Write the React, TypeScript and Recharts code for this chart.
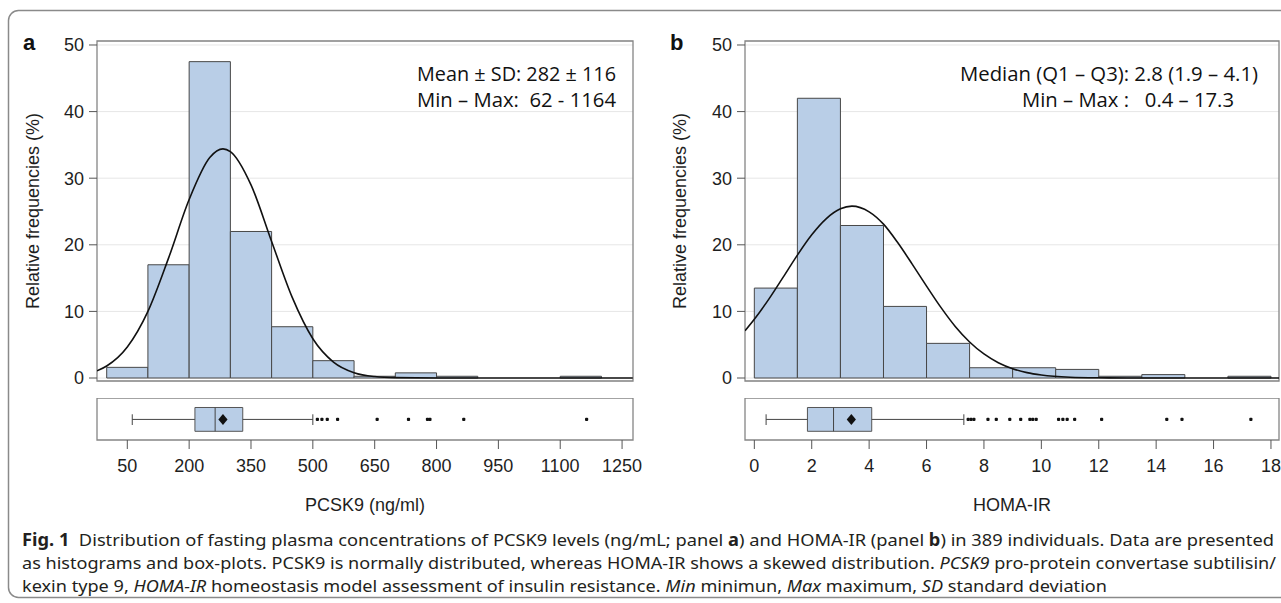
import React from 'react';
import {
  ComposedChart,
  Line,
  Scatter,
  XAxis,
  YAxis,
  CartesianGrid,
  ReferenceArea,
  ReferenceLine,
} from 'recharts';

// ---------- Panel a : PCSK9 ----------
const pcskBinStarts = [0, 100, 200, 300, 400, 500, 600, 700, 800, 900, 1000, 1100];
const pcskBinPct = [1.6, 17.0, 47.5, 22.0, 7.7, 2.6, 0.26, 0.77, 0.26, 0, 0, 0.26];
const pcskBinWidth = 100;
const pcskCurveX = [-23.5, 0, 50, 100, 150, 200, 250, 282, 300, 350, 400, 450, 500, 550, 600, 650, 700, 800, 1000, 1276];
const pcskCurveY = [1.07, 1.8, 4.65, 10.0, 18.0, 26.8, 33.1, 34.4, 34.0, 29.0, 20.5, 12.1, 5.9, 2.4, 0.8, 0.22, 0.05, 0, 0, 0];
const pcskBoxStats = [62, 214, 263, 282, 330, 500]; // min, q1, median, mean, q3, max-whisker
const pcskOutliers = [511, 522, 535, 560, 656, 732, 778, 784, 866, 1164];
const pcskTicks = [50, 200, 350, 500, 650, 800, 950, 1100, 1250];
const pcskDomain = [-23.5, 1276.5];

// ---------- Panel b : HOMA-IR ----------
const homaBinStarts = [0, 1.5, 3, 4.5, 6, 7.5, 9, 10.5, 12, 13.5, 15, 16.5];
const homaBinPct = [13.5, 42.0, 22.9, 10.75, 5.2, 1.54, 1.54, 1.29, 0.26, 0.51, 0, 0.26];
const homaBinWidth = 1.5;
const homaCurveX = [-0.325, 0, 0.5, 1, 1.5, 2, 2.5, 3, 3.4, 4, 4.5, 5, 5.5, 6, 6.5, 7, 7.5, 8, 8.5, 9, 9.5, 10, 11, 12, 13, 14, 18.28];
const homaCurveY = [7.08, 8.81, 11.8, 15.1, 18.45, 21.5, 23.9, 25.4, 25.8, 24.95, 23.1, 20.3, 17.1, 13.8, 10.6, 7.74, 5.41, 3.61, 2.3, 1.4, 0.81, 0.45, 0.12, 0.03, 0.005, 0, 0];
const homaBoxStats = [0.41, 1.85, 2.76, 3.38, 4.09, 7.3];
const homaOutliers = [7.45, 7.55, 7.65, 8.14, 8.43, 8.9, 9.28, 9.6, 9.7, 9.82, 10.6, 10.75, 10.9, 11.16, 12.1, 14.37, 14.9, 17.3];
const homaTicks = [0, 2, 4, 6, 8, 10, 12, 14, 16, 18];
const homaDomain = [-0.325, 18.28];

const freqTicks = [0, 10, 20, 30, 40, 50];
const freqDomain = [-0.45, 50.6];

const BAR_FILL = '#b9cee7';
const BAR_STROKE = '#474747';
const FRAME = '#858585';
const TICK_FONT = { fill: '#1e1e1e', fontSize: 18, fontFamily: '"Liberation Sans", Arial, sans-serif' };

type PanelProps = {
  left: number;
  width: number;
  yAxisWidth: number;
  marginRight: number;
  binStarts: number[];
  binPct: number[];
  binWidth: number;
  curveX: number[];
  curveY: number[];
  box: number[];
  outliers: number[];
  ticks: number[];
  domain: number[];
};

function Panel(p: PanelProps) {
  const curve = p.curveX.map((x, i) => ({ x, y: p.curveY[i] }));
  const [mn, q1, med, mean, q3, mx] = p.box;
  const outlierData = p.outliers.map((x) => ({ x, y: 0.49 }));
  const meanData = [{ x: mean, y: 0.49 }];
  return (
    <>
      <div style={{ position: 'absolute', left: p.left, top: 0 }}>
        <ComposedChart
          width={p.width}
          height={400}
          data={curve}
          margin={{ top: 41, right: p.marginRight, bottom: 19, left: 0 }}
        >
          <CartesianGrid vertical={false} stroke="#e6e6e6" />
          <XAxis type="number" dataKey="x" domain={p.domain} hide allowDataOverflow />
          <YAxis
            type="number"
            domain={freqDomain}
            ticks={freqTicks}
            width={p.yAxisWidth}
            tickSize={8}
            tickMargin={5}
            axisLine={false}
            tickLine={{ stroke: '#555' }}
            tick={TICK_FONT}
            allowDataOverflow
          />
          {p.binStarts.map((s, i) =>
            p.binPct[i] > 0 ? (
              <ReferenceArea
                key={'bin' + i}
                x1={s}
                x2={s + p.binWidth}
                y1={0}
                y2={p.binPct[i]}
                fill={BAR_FILL}
                fillOpacity={1}
                stroke={BAR_STROKE}
                strokeWidth={1}
                ifOverflow="visible"
              />
            ) : null
          )}
          <Line
            type="monotone"
            dataKey="y"
            stroke="#111"
            strokeWidth={1.6}
            dot={false}
            isAnimationActive={false}
          />
          <ReferenceArea
            x1={p.domain[0]}
            x2={p.domain[1]}
            y1={freqDomain[0]}
            y2={freqDomain[1]}
            fill="none"
            stroke={FRAME}
            strokeWidth={1.3}
            ifOverflow="visible"
          />
        </ComposedChart>
      </div>
      <div style={{ position: 'absolute', left: p.left, top: 398 }}>
        <ComposedChart
          width={p.width}
          height={122}
          margin={{ top: 0, right: p.marginRight, bottom: 0, left: p.yAxisWidth }}
        >
          <XAxis
            type="number"
            dataKey="x"
            domain={p.domain}
            ticks={p.ticks}
            height={80}
            tickSize={9}
            tickMargin={10}
            axisLine={false}
            tickLine={{ stroke: '#555' }}
            tick={TICK_FONT}
            allowDataOverflow
          />
          <YAxis type="number" dataKey="y" domain={[0, 1]} hide />
          <ReferenceLine segment={[{ x: mn, y: 0.49 }, { x: q1, y: 0.49 }]} stroke="#444" strokeWidth={1} ifOverflow="visible" />
          <ReferenceLine segment={[{ x: q3, y: 0.49 }, { x: mx, y: 0.49 }]} stroke="#444" strokeWidth={1} ifOverflow="visible" />
          <ReferenceLine segment={[{ x: mn, y: 0.357 }, { x: mn, y: 0.612 }]} stroke="#444" strokeWidth={1} ifOverflow="visible" />
          <ReferenceLine segment={[{ x: mx, y: 0.357 }, { x: mx, y: 0.612 }]} stroke="#444" strokeWidth={1} ifOverflow="visible" />
          <ReferenceArea
            x1={q1}
            x2={q3}
            y1={0.207}
            y2={0.774}
            fill={BAR_FILL}
            fillOpacity={1}
            stroke="#555"
            strokeWidth={1}
            ifOverflow="visible"
          />
          <ReferenceLine segment={[{ x: med, y: 0.207 }, { x: med, y: 0.774 }]} stroke="#444" strokeWidth={1} ifOverflow="visible" />
          <Scatter
            data={outlierData}
            dataKey="y"
            isAnimationActive={false}
            shape={(s: any) => <rect x={s.cx - 1.6} y={s.cy - 1.6} width={3.2} height={3.2} rx={1} fill="#111" />}
          />
          <Scatter
            data={meanData}
            dataKey="y"
            isAnimationActive={false}
            shape={(s: any) => (
              <polygon
                points={`${s.cx},${s.cy - 5.5} ${s.cx + 4.6},${s.cy} ${s.cx},${s.cy + 5.5} ${s.cx - 4.6},${s.cy}`}
                fill="#111"
              />
            )}
          />
          <ReferenceArea
            x1={p.domain[0]}
            x2={p.domain[1]}
            y1={0}
            y2={1}
            fill="none"
            stroke={FRAME}
            strokeWidth={1.3}
            ifOverflow="visible"
          />
        </ComposedChart>
      </div>
    </>
  );
}

const ANN_FONT = '"Open Sans", "Noto Sans", sans-serif';
const CAP_FONT = '"Noto Sans", "Open Sans", sans-serif';
const LABEL_FONT = '"Liberation Sans", Arial, sans-serif';

export default function App() {
  return (
    <div style={{ position: 'absolute', left: 0, top: 0, width: 1281, height: 603, background: '#fff', overflow: 'hidden' }}>
      <Panel
        left={0}
        width={650}
        yAxisWidth={97}
        marginRight={17}
        binStarts={pcskBinStarts}
        binPct={pcskBinPct}
        binWidth={pcskBinWidth}
        curveX={pcskCurveX}
        curveY={pcskCurveY}
        box={pcskBoxStats}
        outliers={pcskOutliers}
        ticks={pcskTicks}
        domain={pcskDomain}
      />
      <Panel
        left={650}
        width={631}
        yAxisWidth={95}
        marginRight={2}
        binStarts={homaBinStarts}
        binPct={homaBinPct}
        binWidth={homaBinWidth}
        curveX={homaCurveX}
        curveY={homaCurveY}
        box={homaBoxStats}
        outliers={homaOutliers}
        ticks={homaTicks}
        domain={homaDomain}
      />
      <svg
        width={1281}
        height={603}
        style={{ position: 'absolute', left: 0, top: 0, pointerEvents: 'none' }}
      >
        <rect x={8.5} y={10.5} width={1290} height={587} rx={10} ry={10} fill="none" stroke="#8a8a8a" strokeWidth={1.5} />
        <text x={23} y={50} fontFamily={LABEL_FONT} fontWeight="bold" fontSize={22} fill="#111">a</text>
        <text x={670} y={50} fontFamily={LABEL_FONT} fontWeight="bold" fontSize={22} fill="#111">b</text>

        <text transform="translate(39,211) rotate(-90)" textAnchor="middle" fontFamily={LABEL_FONT} fontSize={18} fill="#1e1e1e">
          Relative frequencies (%)
        </text>
        <text transform="translate(686,211) rotate(-90)" textAnchor="middle" fontFamily={LABEL_FONT} fontSize={18} fill="#1e1e1e">
          Relative frequencies (%)
        </text>

        <text x={365} y={511} textAnchor="middle" fontFamily={LABEL_FONT} fontSize={18} fill="#1e1e1e">PCSK9 (ng/ml)</text>
        <text x={1012} y={511} textAnchor="middle" fontFamily={LABEL_FONT} fontSize={18} fill="#1e1e1e">HOMA-IR</text>

        <text x={417} y={81} fontFamily={ANN_FONT} fontSize={20} fill="#111" textLength={199} lengthAdjust="spacingAndGlyphs">
          Mean ± SD: 282 ± 116
        </text>
        <text x={417} y={107} fontFamily={ANN_FONT} fontSize={20} fill="#111" textLength={199} lengthAdjust="spacingAndGlyphs" xmlSpace="preserve">
          {'Min – Max:  62 - 1164'}
        </text>
        <text x={960} y={81} fontFamily={ANN_FONT} fontSize={20} fill="#111" textLength={298} lengthAdjust="spacingAndGlyphs">
          Median (Q1 – Q3): 2.8 (1.9 – 4.1)
        </text>
        <text x={1022} y={107} fontFamily={ANN_FONT} fontSize={20} fill="#111" textLength={212} lengthAdjust="spacingAndGlyphs" xmlSpace="preserve">
          {'Min – Max :   0.4 – 17.3'}
        </text>

        <text x={22} y={546} fontFamily={CAP_FONT} fontSize={17} fill="#231f20" textLength={1252} lengthAdjust="spacingAndGlyphs" xmlSpace="preserve">
          <tspan fontWeight="bold">Fig. 1</tspan>
          {'  Distribution of fasting plasma concentrations of PCSK9 levels (ng/mL; panel '}
          <tspan fontWeight="bold">a</tspan>
          {') and HOMA-IR (panel '}
          <tspan fontWeight="bold">b</tspan>
          {') in 389 individuals. Data are presented'}
        </text>
        <text x={22} y={569} fontFamily={CAP_FONT} fontSize={17} fill="#231f20" textLength={1254} lengthAdjust="spacingAndGlyphs" xmlSpace="preserve">
          {'as histograms and box-plots. PCSK9 is normally distributed, whereas HOMA-IR shows a skewed distribution. '}
          <tspan fontStyle="italic">PCSK9</tspan>
          {' pro-protein convertase subtilisin/'}
        </text>
        <text x={22} y={592} fontFamily={CAP_FONT} fontSize={17} fill="#231f20" textLength={1085} lengthAdjust="spacingAndGlyphs" xmlSpace="preserve">
          {'kexin type 9, '}
          <tspan fontStyle="italic">HOMA-IR</tspan>
          {' homeostasis model assessment of insulin resistance. '}
          <tspan fontStyle="italic">Min</tspan>
          {' minimun, '}
          <tspan fontStyle="italic">Max</tspan>
          {' maximum, '}
          <tspan fontStyle="italic">SD</tspan>
          {' standard deviation'}
        </text>
      </svg>
    </div>
  );
}
